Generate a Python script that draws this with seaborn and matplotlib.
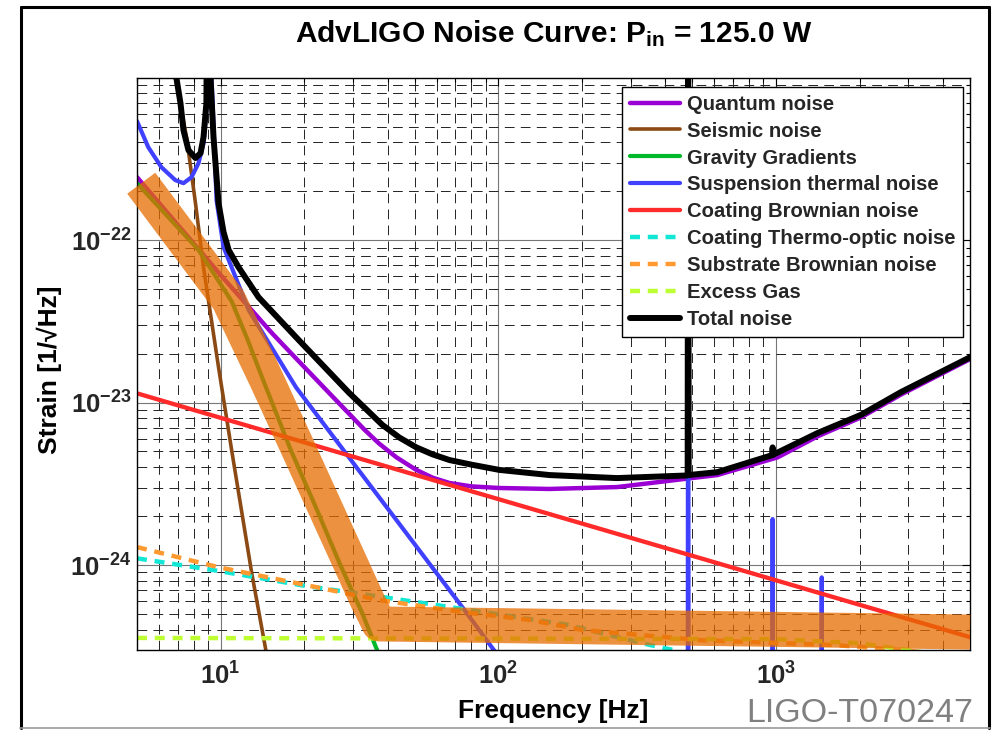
import numpy as np
import pandas as pd
import matplotlib
matplotlib.use("Agg")
import matplotlib.pyplot as plt
import seaborn as sns
from matplotlib import font_manager
from matplotlib.ticker import LogLocator, FixedLocator, NullFormatter, FuncFormatter
from matplotlib.lines import Line2D

# ---------------- data (frequency in Hz, strain in 1/sqrt(Hz)) ----------------
quantum_f = [5, 10, 15.3, 19.1, 26.7, 33, 37.2, 43, 50.7, 58, 66.7, 80, 101, 153, 268, 463, 615, 1014,
             1414, 2023, 2820, 5000]
quantum_h = [2.44e-22, 6.1e-23, 2.68e-23, 1.8e-23, 9.9e-24, 6.8e-24, 5.6e-24, 4.6e-24, 3.85e-24, 3.45e-24,
             3.2e-24, 3.05e-24, 2.98e-24, 2.94e-24, 3.02e-24, 3.38e-24, 3.58e-24, 4.6e-24, 6.2e-24, 8.1e-24,
             1.12e-23, 1.85e-23]

seismic_f = [5, 6.0, 6.87, 7.54, 8.12, 8.68, 9.83, 10.96, 11.33, 12.95, 14.55, 16]
seismic_h = [3e-20, 4e-21, 1e-21, 4.3e-22, 1.69e-22, 6.8e-23, 1.65e-23, 5.1e-24, 3.6e-24, 8.9e-25, 3.0e-25, 1.2e-25]

gravity_f = [5, 8.33, 10.96, 12.5, 13.95, 17.9, 22.0, 27, 32.3, 36.6, 45]
gravity_h = [2.24e-22, 8.7e-23, 4.2e-23, 2.45e-23, 1.5e-23, 5.1e-24, 2.28e-24, 1.0e-24, 5.1e-25, 3.0e-25, 1.3e-25]

susp_f = [5, 5.49, 6.12, 6.87, 7.35, 7.86, 8.33, 8.68, 8.89, 9.1, 9.28, 9.67, 10.25, 12.63, 18.7, 29.0,
          75.5, 95.3, 150, 300, 481, 483, 485, 600, 970, 973, 976, 1200, 1457, 1462, 1467, 5000]
susp_h = [5.4e-22, 3.73e-22, 2.81e-22, 2.34e-22, 2.24e-22, 2.44e-22, 2.98e-22, 3.95e-22, 6.3e-22, 1e-19,
          1e-21, 1.76e-22, 9.06e-23, 3.7e-23, 1.24e-23, 4.6e-24, 5.3e-25, 3.08e-25, 1.1e-25, 2.2e-26,
          7.5e-27, 1e-20, 7.4e-27, 4.5e-27, 1.5e-27, 1.92e-24, 1.5e-27, 9e-28, 6.5e-28, 8.4e-25, 6.4e-28, 3.5e-29]

coat_brown_f = [5, 50, 500, 5000]
coat_brown_h = [1.14e-23, 3.6e-24, 1.14e-24, 3.6e-25]

coat_to_f = [5, 9.83, 20.3, 38.2, 66.7, 176, 352, 427, 600, 1000]
coat_to_h = [1.10e-24, 9.2e-25, 7.43e-25, 6.36e-25, 5.52e-25, 4.3e-25, 3.22e-25, 3.0e-25, 2.4e-25, 1.6e-25]

substrate_f = [5, 9.83, 18.7, 37.2, 74.3, 130, 202, 534, 1615, 2820, 5000]
substrate_h = [1.29e-24, 9.7e-25, 7.75e-25, 6.09e-25, 5.14e-25, 4.59e-25, 3.98e-25, 3.45e-25, 3.22e-25, 3.0e-25, 2.7e-25]

gas_f = [5, 1000, 2000, 3000, 5000]
gas_h = [3.56e-25, 3.5e-25, 3.3e-25, 3.0e-25, 2.6e-25]

total_f = [5, 6.0, 6.93, 7.17, 7.35, 7.66, 8.12, 8.47, 8.68, 8.89, 9.05, 9.2, 9.43, 9.83, 10.25, 10.69, 11.6,
           13.7, 19.1, 29.0, 33, 38.2, 44, 50.7, 58, 66.7, 80, 101, 153, 268, 481, 483, 485, 615, 970, 973,
           976, 1414, 2023, 2820, 5000]
total_h = [3e-20, 4e-21, 1e-21, 6.97e-22, 4.75e-22, 3.58e-22, 3.2e-22, 3.43e-22, 4.3e-22, 6.97e-22, 1e-19,
           1e-21, 4.3e-22, 1.69e-22, 1.12e-22, 8.7e-23, 6.82e-23, 4.45e-23, 2.43e-23, 1.15e-23, 9.3e-24,
           7.3e-24, 6.1e-24, 5.3e-24, 4.8e-24, 4.43e-24, 4.15e-24, 3.85e-24, 3.58e-24, 3.43e-24, 3.56e-24,
           1e-20, 3.58e-24, 3.73e-24, 4.75e-24, 5.3e-24, 4.77e-24, 6.5e-24, 8.4e-24, 1.16e-23, 1.9e-23]

# highlighted (hand-drawn) orange band
band_f = [5.18, 10.69, 14.66, 19.14, 33.7, 37.2, 5000]
band_h = [2.24e-22, 4.28e-23, 1.375e-23, 5.1e-24, 6.1e-25, 4.34e-25, 3.87e-25]

labels = ["Quantum noise", "Seismic noise", "Gravity Gradients", "Suspension thermal noise",
          "Coating Brownian noise", "Coating Thermo-optic noise", "Substrate Brownian noise",
          "Excess Gas", "Total noise"]
x_ticks = [10, 100, 1000]
y_ticks = [1e-24, 1e-23, 1e-22]
title = r"AdvLIGO Noise Curve: P$_{\mathrm{in}}$ = 125.0 W"

# ---------------- style ----------------
sns.set_theme(style="white")
available = {f.name for f in font_manager.fontManager.ttflist}
SANS = "Liberation Sans" if "Liberation Sans" in available else "DejaVu Sans"
NARROW = "Liberation Sans Narrow" if "Liberation Sans Narrow" in available else SANS
plt.rcParams.update({
    "font.family": [SANS, "DejaVu Sans"],
    "mathtext.fontset": "custom",
    "mathtext.rm": f"{NARROW}:bold",
    "mathtext.bf": f"{SANS}:bold",
    "mathtext.it": f"{SANS}:bold",
    "lines.scale_dashes": False,
    "axes.unicode_minus": True,
})

fig = plt.figure(figsize=(9.94, 7.30), dpi=100)
fig.patch.set_facecolor("white")
ax = fig.add_axes([137 / 994, 1 - 650 / 730, 833 / 994, 572 / 730])
ax.set_facecolor("white")

dash = (0, (7.2, 5.6))
series = [
    (quantum_f, quantum_h, "#9A00D4", 3.2, "-"),
    (seismic_f, seismic_h, "#8B4A14", 2.6, "-"),
    (gravity_f, gravity_h, "#00B82A", 3.0, "-"),
    (susp_f, susp_h, "#4040FF", 3.0, "-"),
    (coat_brown_f, coat_brown_h, "#FF2A2A", 3.1, "-"),
    (coat_to_f, coat_to_h, "#12E6D4", 3.2, dash),
    (substrate_f, substrate_h, "#FF9A30", 3.2, dash),
    (gas_f, gas_h, "#BDFF33", 3.2, dash),
    (total_f, total_h, "#000000", 4.3, "-"),
]

handles = []
for (f, h, c, lw, ls), lab in zip(series, labels):
    df = pd.DataFrame({"freq": f, "strain": h})
    n_before = len(ax.lines)
    sns.lineplot(data=df, x="freq", y="strain", ax=ax, color=c, linewidth=lw, linestyle=ls,
                 estimator=None, sort=False, legend=False, zorder=2)
    line = ax.lines[n_before]
    line.set_label(lab)
    line.set_solid_joinstyle("round")
    handles.append(line)

band_df = pd.DataFrame({"freq": band_f, "strain": band_h})
n_before = len(ax.lines)
sns.lineplot(data=band_df, x="freq", y="strain", ax=ax, color="#E66C00", linewidth=25.2, alpha=0.75,
             estimator=None, sort=False, legend=False, zorder=3)
band_line = ax.lines[n_before]
band_line.set_solid_capstyle("butt")
band_line.set_solid_joinstyle("round")
band_line.set_clip_on(False)

ax.set_xscale("log")
ax.set_yscale("log")
ax.set_xlim(5, 5000)
ax.set_ylim(3.0e-25, 9.95e-22)

ax.xaxis.set_major_locator(FixedLocator(x_ticks))
ax.yaxis.set_major_locator(FixedLocator(y_ticks))
ax.xaxis.set_minor_locator(LogLocator(base=10, subs=np.arange(2, 10), numticks=20))
ax.yaxis.set_minor_locator(LogLocator(base=10, subs=np.arange(2, 10), numticks=20))
ax.xaxis.set_minor_formatter(NullFormatter())
ax.yaxis.set_minor_formatter(NullFormatter())
fmt = FuncFormatter(lambda v, p: r"$\mathbf{10^{%d}}$" % int(round(np.log10(v))))
ax.xaxis.set_major_formatter(fmt)
ax.yaxis.set_major_formatter(fmt)

ax.grid(which="major", color="#777777", linewidth=0.8, linestyle="-", zorder=0)
ax.grid(which="minor", color="#222222", linewidth=0.7, linestyle=(0, (7, 4.5)), zorder=0)
ax.set_axisbelow(True)
ax.tick_params(which="both", direction="in", top=True, right=True, color="black", width=0.8)
ax.tick_params(which="major", length=6)
ax.tick_params(which="minor", length=3)
ax.tick_params(axis="x", which="major", labelsize=18.5, pad=9)
ax.tick_params(axis="y", which="major", labelsize=18.5, pad=4)
for sp in ax.spines.values():
    sp.set_visible(True)
    sp.set_color("black")
    sp.set_linewidth(1.0)

ax.set_xlabel("Frequency [Hz]", fontsize=19, fontweight="bold", color="black")
ax.set_ylabel("Strain [1/\u221aHz]", fontsize=19, fontweight="bold", color="black")
ax.xaxis.set_label_coords(0.5, -0.085)
ax.yaxis.set_label_coords(-0.09, 0.49)

title_size = 25 if NARROW != SANS else 21.5
ax.set_title(title, fontsize=title_size, fontweight="bold", family=[NARROW, "DejaVu Sans"], pad=26, color="black")

leg = ax.legend(handles=handles, labels=labels, loc="upper right", bbox_to_anchor=(0.9916, 0.9843),
                borderaxespad=0, frameon=True, fancybox=False, shadow=False, edgecolor="black",
                framealpha=1, prop={"weight": "bold", "size": 14.6}, handlelength=2.45,
                handletextpad=0.35, labelspacing=0.39, borderpad=0.38)
leg.get_frame().set_linewidth(1.0)
leg.set_zorder(10)

# window frame and watermark
fig.add_artist(Line2D([21 / 994, 21 / 994], [0.003, 1 - 6.5 / 730], transform=fig.transFigure, color="black", lw=2.2))
fig.add_artist(Line2D([21 / 994, 989 / 994], [1 - 6.5 / 730, 1 - 6.5 / 730], transform=fig.transFigure, color="black", lw=2.2))
fig.add_artist(Line2D([989 / 994, 989 / 994], [0.003, 1 - 6.5 / 730], transform=fig.transFigure, color="black", lw=2.2))
fig.add_artist(Line2D([20 / 994, 990 / 994], [1 - 728 / 730, 1 - 728 / 730], transform=fig.transFigure, color="#999999", lw=1.2))
fig.text(973 / 994, 1 - 722 / 730, "LIGO-T070247", ha="right", va="baseline", color="#808080", fontsize=24.5,
         family=[SANS, "DejaVu Sans"])

fig.savefig("out.png", dpi=100)
